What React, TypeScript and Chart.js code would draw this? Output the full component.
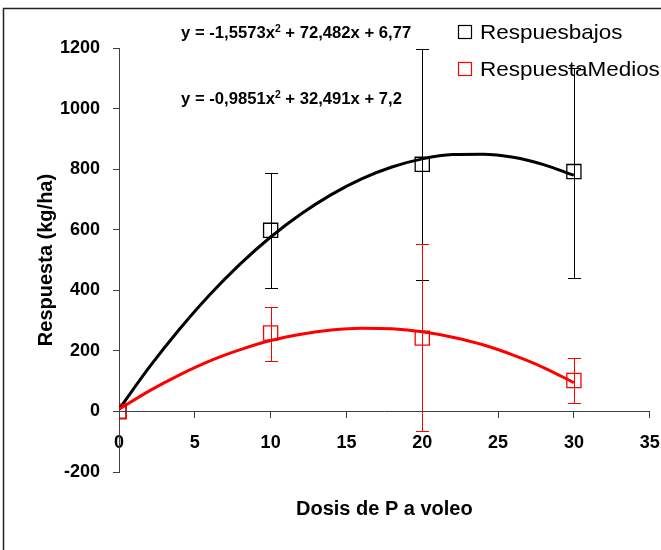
import React, { useEffect, useRef } from 'react';
import { Chart, registerables } from 'chart.js';

Chart.register(...registerables);

// ---- data ----
const doses = [0, 10, 20, 30];
const bajosValues = [0, 598, 816, 792];
const bajosLow = [0, 407, 433, 442];
const bajosHigh = [0, 787, 1197, 1135];
const mediosValues = [0, 259, 242, 102];
const mediosLow = [0, 166, -66, 27];
const mediosHigh = [0, 344, 552, 178];

// trend line points (as drawn in the reference)
const trendX = [0, 2, 4, 6, 8, 10, 12, 14, 16, 18, 20, 22, 24, 26, 28, 30];
const bajosTrend = [7, 146, 272, 386, 487, 576, 652, 716, 768, 807, 834, 848, 849, 839, 815, 780];
const mediosTrend = [7, 68, 121, 167, 204, 234, 255, 269, 275, 273, 263, 245, 220, 186, 145, 95];

const seriesLabels = ['Respuesbajos', 'RespuestaMedios'];
const equationLabels = [
  ['y = -1,5573x', '2', ' + 72,482x + 6,77'],
  ['y = -0,9851x', '2', ' + 32,491x + 7,2'],
];
const xTitle = 'Dosis de P a voleo';
const yTitle = 'Respuesta (kg/ha)';
const xMin = 0, xMax = 35, xStep = 5;
const yMin = -200, yMax = 1200, yStep = 200;

const FONT = '"Liberation Sans", Arial, sans-serif';
const BLACK = '#000000';
const RED = '#ff0000';

const pts = (xs: number[], ys: number[]) => xs.map((x, i) => ({ x, y: ys[i] }));

const stretchText = (ctx: any, text: string, x: number, y: number, sx: number) => {
  ctx.save();
  ctx.translate(x, y);
  ctx.scale(sx, 1);
  ctx.fillText(text, 0, 0);
  ctx.restore();
  return ctx.measureText(text).width * sx;
};

const decorPlugin = {
  id: 'decor',
  beforeDatasetsDraw(chart: any) {
    const ctx = chart.ctx;
    const xs = chart.scales.x;
    const ys = chart.scales.y;
    const bars = [
      { low: bajosLow, high: bajosHigh, color: BLACK },
      { low: mediosLow, high: mediosHigh, color: RED },
    ];
    ctx.save();
    ctx.lineWidth = 1;
    bars.forEach((b) => {
      doses.forEach((d, i) => {
        if (b.low[i] === b.high[i]) return;
        const px = Math.round(xs.getPixelForValue(d)) + 0.5;
        const y1 = Math.round(ys.getPixelForValue(b.low[i])) + 0.5;
        const y2 = Math.round(ys.getPixelForValue(b.high[i])) + 0.5;
        ctx.strokeStyle = b.color;
        ctx.beginPath();
        ctx.moveTo(px, y1);
        ctx.lineTo(px, y2);
        ctx.moveTo(px - 6.5, y1);
        ctx.lineTo(px + 6.5, y1);
        ctx.moveTo(px - 6.5, y2);
        ctx.lineTo(px + 6.5, y2);
        ctx.stroke();
      });
    });
    ctx.restore();
  },
  afterDraw(chart: any) {
    const ctx = chart.ctx;
    const area = chart.chartArea;
    ctx.save();
    // outer frame
    ctx.strokeStyle = '#222222';
    ctx.lineWidth = 1.5;
    ctx.beginPath();
    ctx.moveTo(3.5, 560);
    ctx.lineTo(3.5, 8.5);
    ctx.lineTo(670, 8.5);
    ctx.stroke();

    // legend
    const legendColors = [BLACK, RED];
    ctx.font = `21px ${FONT}`;
    ctx.textBaseline = 'alphabetic';
    ctx.textAlign = 'left';
    seriesLabels.forEach((lab, i) => {
      const top = 25 + i * 37;
      ctx.strokeStyle = legendColors[i];
      ctx.lineWidth = 1.2;
      ctx.strokeRect(458.5, top + 0.5, 13, 13);
      ctx.fillStyle = '#000';
      stretchText(ctx, lab, 480, top + 14, 1.07);
    });

    // equations
    const eqBase = [38, 104];
    equationLabels.forEach((parts, i) => {
      let x = 181;
      const y = eqBase[i];
      ctx.fillStyle = '#000';
      ctx.font = `bold 16px ${FONT}`;
      x += stretchText(ctx, parts[0], x, y, 1.04);
      ctx.font = `bold 10px ${FONT}`;
      x += stretchText(ctx, parts[1], x, y - 6, 1.04);
      ctx.font = `bold 16px ${FONT}`;
      stretchText(ctx, parts[2], x, y, 1.04);
    });

    // axis titles
    ctx.font = `bold 20px ${FONT}`;
    ctx.textAlign = 'center';
    ctx.textBaseline = 'alphabetic';
    ctx.fillText(xTitle, (area.left + area.right) / 2, 515);
    ctx.save();
    ctx.translate(52, (area.top + area.bottom) / 2);
    ctx.rotate(-Math.PI / 2);
    ctx.fillText(yTitle, 0, 0);
    ctx.restore();
    ctx.restore();
  },
};

export default function App() {
  const ref = useRef<HTMLCanvasElement | null>(null);
  useEffect(() => {
    if (!ref.current) return;
    const chart = new Chart(ref.current, {
      type: 'scatter',
      data: {
        datasets: [
          {
            label: seriesLabels[1] + ' markers',
            data: pts(doses, mediosValues),
            pointStyle: 'rect',
            pointRadius: 10,
            borderColor: RED,
            backgroundColor: 'rgba(255,255,255,0)',
            pointBorderWidth: 1.3,
            showLine: false,
            order: 1,
          },
          {
            label: seriesLabels[0] + ' markers',
            data: pts(doses, bajosValues),
            pointStyle: 'rect',
            pointRadius: 10,
            borderColor: BLACK,
            backgroundColor: 'rgba(255,255,255,0)',
            pointBorderWidth: 1.3,
            showLine: false,
            order: 2,
          },
          {
            label: seriesLabels[1] + ' trend',
            data: pts(trendX, mediosTrend),
            showLine: true,
            borderColor: RED,
            borderWidth: 3,
            pointRadius: 0,
            cubicInterpolationMode: 'monotone',
            order: 3,
          },
          {
            label: seriesLabels[0] + ' trend',
            data: pts(trendX, bajosTrend),
            showLine: true,
            borderColor: BLACK,
            borderWidth: 3,
            pointRadius: 0,
            cubicInterpolationMode: 'monotone',
            order: 4,
          },
        ] as any,
      },
      options: {
        responsive: false,
        animation: false,
        events: [],
        layout: { padding: { top: 48, right: 10, bottom: 78, left: 0 } },
        plugins: {
          legend: { display: false },
          tooltip: { enabled: false },
          title: { display: false },
        },
        scales: {
          x: {
            type: 'linear',
            position: { y: 0 } as any,
            min: xMin,
            max: xMax,
            border: { display: true, color: '#404040', width: 1 },
            grid: { drawOnChartArea: false, tickLength: 6, color: '#404040' },
            ticks: {
              stepSize: xStep,
              color: '#000',
              padding: 15,
              font: { family: FONT, size: 18, weight: 'bold' },
              maxRotation: 0,
              callback: (v: any) => String(v),
            },
            afterFit: (s: any) => {
              s.height = 0;
              s.paddingLeft = 0;
              s.paddingRight = 0;
            },
          },
          y: {
            type: 'linear',
            position: 'left',
            min: yMin,
            max: yMax,
            border: { display: true, color: '#404040', width: 1 },
            grid: { drawOnChartArea: false, tickLength: 6, color: '#404040' },
            ticks: {
              stepSize: yStep,
              color: '#000',
              padding: 13,
              font: { family: FONT, size: 18, weight: 'bold' },
              callback: (v: any) => String(v),
            },
            afterFit: (s: any) => { s.width = 119; },
          },
        },
      } as any,
      plugins: [decorPlugin],
    });
    return () => chart.destroy();
  }, []);
  return (
    <div style={{ position: 'absolute', left: 0, top: 0, width: 661, height: 550, background: '#fff' }}>
      <canvas ref={ref} width={661} height={550} style={{ display: 'block' }} />
    </div>
  );
}
